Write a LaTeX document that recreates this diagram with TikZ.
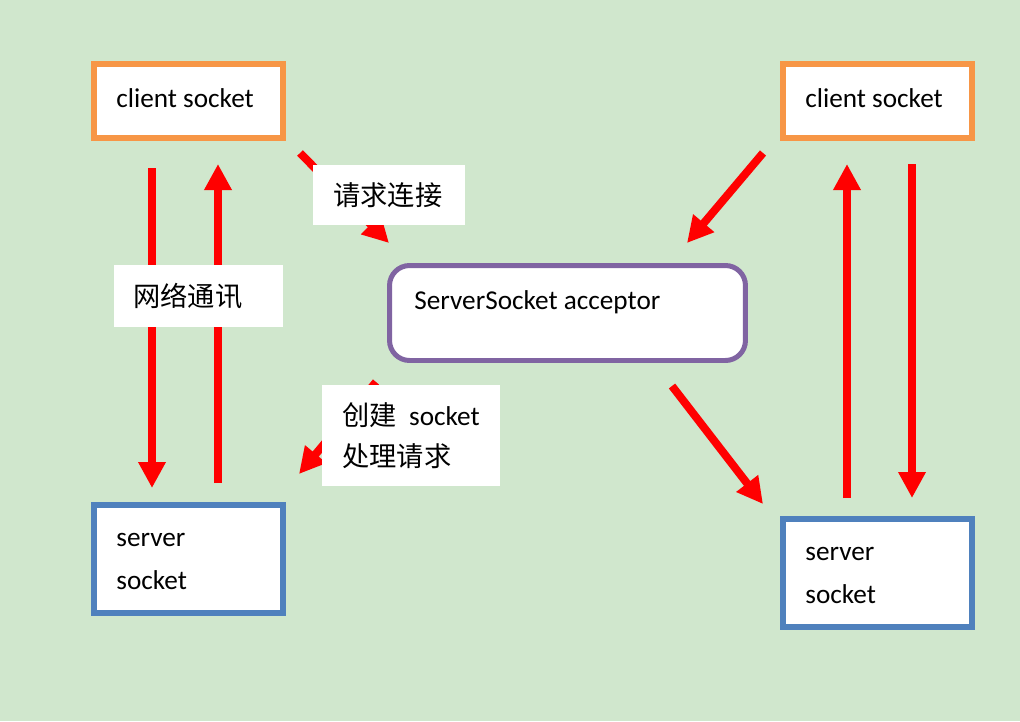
\documentclass[tikz,border=0pt]{standalone}
\usepackage{fontspec}
\setmainfont{Carlito}
\newfontfamily\cjk{Noto Sans CJK SC}
\usetikzlibrary{arrows.meta}
\definecolor{bgc}{HTML}{D0E7CD}
\definecolor{orangec}{HTML}{F79646}
\definecolor{bluec}{HTML}{4F81BD}
\definecolor{purplec}{HTML}{8064A2}
\definecolor{redc}{HTML}{FF0000}
\begin{document}
\begin{tikzpicture}[x=0.02cm,y=-0.02cm,
  every node/.style={font=\fontsize{15.5}{20}\selectfont},
  clientbox/.style={draw=orangec, line width=6pt*0.5669, fill=white, minimum width=3.78cm, minimum height=1.48cm, inner sep=0pt},
  serverbox/.style={draw=bluec, line width=5.5pt*0.5669, fill=white, minimum width=3.78cm, minimum height=2.16cm, inner sep=0pt},
  acceptbox/.style={draw=purplec, line width=5pt*0.5669, fill=white, rounded corners=0.4cm, minimum width=7.12cm, minimum height=1.9cm, inner sep=0pt},
  labelbox/.style={fill=white, inner sep=0pt},
  txt/.style={anchor=west, inner sep=0pt, align=left},
  redarrow/.style={draw=redc, line width=8pt*0.5669, -{Triangle[length=0.52cm,width=0.52cm]}}
]
\fill[bgc] (0,0) rectangle (1020,721);
\useasboundingbox (0,0) rectangle (1020,721);

% boxes
\node[clientbox] (cl) at (188.5,101) {};
\node[clientbox] (cr) at (877.5,101) {};
\node[serverbox] (sl) at (188.5,559) {};
\node[serverbox] (sr) at (877.5,573) {};
\node[acceptbox] (acc) at (567.5,313) {};

% box texts
\node[txt] (tcl) at (116,98) {client socket};
\node[txt] (tcr) at (805,98) {client socket};
\node[txt] (tsl1) at (116,540) {server};
\node[txt] (tsl2) at (116,580) {socket};
\node[txt] (tsr1) at (805,554) {server};
\node[txt] (tsr2) at (805,594) {socket};
\node[txt] (tacc) at (414,302) {ServerSocket acceptor};

% arrow endpoints
\coordinate (a1s) at (152,168); \coordinate (a1e) at (152,488);
\coordinate (a2s) at (218,483); \coordinate (a2e) at (218,164);
\coordinate (a3s) at (300,153); \coordinate (a3e) at (389,243);
\coordinate (a4s) at (376,382); \coordinate (a4e) at (299,474);
\coordinate (a5s) at (763,153); \coordinate (a5e) at (687,243);
\coordinate (a6s) at (672,386); \coordinate (a6e) at (763,504);
\coordinate (a7s) at (847,498); \coordinate (a7e) at (847,164);
\coordinate (a8s) at (912,164); \coordinate (a8e) at (912,498);

\draw[redarrow] (a1s) -- (a1e);
\draw[redarrow] (a2s) -- (a2e);
\draw[redarrow] (a3s) -- (a3e);
\draw[redarrow] (a4s) -- (a4e);
\draw[redarrow] (a5s) -- (a5e);
\draw[redarrow] (a6s) -- (a6e);
\draw[redarrow] (a7s) -- (a7e);
\draw[redarrow] (a8s) -- (a8e);

% label boxes on top of arrows
\node[labelbox, minimum width=3.04cm, minimum height=1.2cm] (lb1) at (389,195) {};
\node[txt] (lt1) at (333,195) {\cjk 请求连接};
\node[labelbox, minimum width=3.38cm, minimum height=1.24cm] (lb2) at (198.5,296) {};
\node[txt] (lt2) at (133,296) {\cjk 网络通讯};
\node[labelbox, minimum width=3.56cm, minimum height=2.02cm] (lb3) at (411,435.5) {};
\node[txt] (lt3a) at (342,415) {{\cjk 创建}\ \ socket};
\node[txt] (lt3b) at (342,456) {\cjk 处理请求};
\end{tikzpicture}
\end{document}
